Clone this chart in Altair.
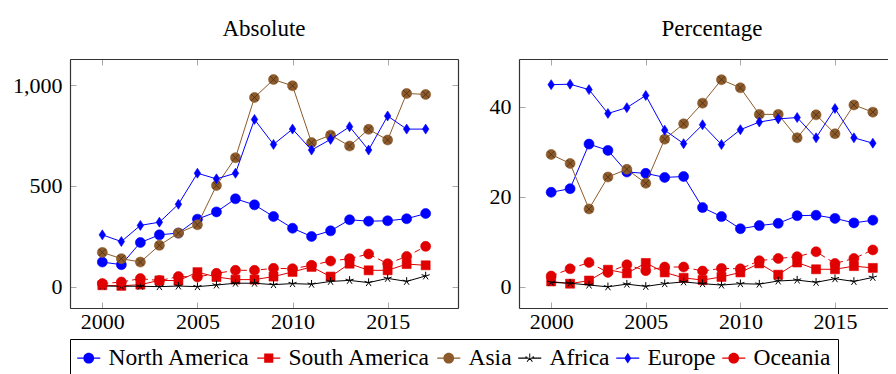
import math
import altair as alt
import pandas as pd

years = list(range(2000, 2018))
series = ["North America", "South America", "Asia", "Africa", "Europe", "Oceania"]

# Absolute values
abs_north_america = [122, 109, 219, 257, 266, 335, 371, 436, 406, 348, 290, 249, 277, 332, 325, 327, 337, 363]
abs_south_america = [7, 4, 10, 31, 30, 72, 48, 35, 35, 50, 73, 98, 50, 114, 81, 81, 112, 106]
abs_asia = [170, 139, 122, 205, 266, 307, 502, 640, 939, 1028, 997, 715, 752, 698, 781, 728, 959, 954]
abs_africa = [3, 2, 2, 0, 3, 0, 8, 17, 17, 10, 15, 12, 26, 31, 20, 41, 26, 53]
abs_europe = [257, 224, 304, 320, 409, 563, 535, 563, 830, 706, 782, 678, 731, 794, 678, 847, 782, 782]
abs_oceania = [15, 23, 40, 30, 50, 48, 66, 81, 81, 91, 89, 106, 127, 139, 162, 114, 150, 200]

# Percentage values
pct_north_america = [21.0, 21.8, 31.7, 30.3, 25.5, 25.2, 24.3, 24.5, 17.6, 15.6, 12.9, 13.6, 14.1, 15.8, 15.9, 15.2, 14.2, 14.8]
pct_south_america = [1.2, 0.7, 1.4, 3.8, 3.0, 5.3, 3.2, 2.0, 1.5, 2.2, 3.2, 5.2, 2.7, 5.4, 3.9, 3.9, 4.6, 4.2]
pct_asia = [29.4, 27.4, 17.3, 24.4, 26.1, 23.0, 32.8, 36.2, 40.8, 46.0, 44.2, 38.3, 38.3, 33.1, 38.2, 34.0, 40.4, 38.8]
pct_africa = [1.0, 0.8, 0.4, 0.0, 0.6, 0.1, 0.7, 1.1, 0.7, 0.4, 0.7, 0.6, 1.3, 1.5, 1.0, 1.8, 1.2, 2.1]
pct_europe = [44.9, 45.0, 43.8, 38.5, 39.8, 42.5, 34.8, 31.8, 36.0, 31.6, 34.9, 36.6, 37.3, 37.6, 33.1, 39.6, 33.1, 31.9]
pct_oceania = [2.4, 4.0, 5.4, 3.2, 4.9, 3.6, 4.4, 4.4, 3.5, 4.1, 4.0, 5.8, 6.3, 6.7, 7.8, 5.2, 6.3, 8.2]

abs_values = [abs_north_america, abs_south_america, abs_asia, abs_africa, abs_europe, abs_oceania]
pct_values = [pct_north_america, pct_south_america, pct_asia, pct_africa, pct_europe, pct_oceania]

rows = []
for s, av, pv in zip(series, abs_values, pct_values):
    for y, a, p in zip(years, av, pv):
        rows.append({"year": y, "series": s, "absolute": a, "percent": p})
df = pd.DataFrame(rows)

FONT = "'Liberation Serif', 'DejaVu Serif', serif"
BLUE = "#0000ff"
RED = "#e00000"
BROWN = "#8c5a2b"
BLACK = "#000000"
FRAME = "#333333"
colors = [BLUE, RED, BROWN, BLACK, BLUE, RED]

STAR = "M0,0L0,-0.85M0,0L0.81,-0.26M0,0L0.5,0.69M0,0L-0.5,0.69M0,0L-0.81,-0.26"
DIAMOND = "M0,-1L0.65,0L0,1L-0.65,0Z"
OTIMES = "M-0.7,-0.7L0.7,0.7M-0.7,0.7L0.7,-0.7"
SQUARE = "M-0.9,-0.9L0.9,-0.9L0.9,0.9L-0.9,0.9Z"
marker_shapes = ["circle", SQUARE, "circle", STAR, DIAMOND, "circle"]


def bar(x0, x1, w=0.1):
    return f"M{x0},{-w}L{x1},{-w}L{x1},{w}L{x0},{w}Z"


def filled_star(r=0.85, w=0.09):
    parts = []
    for k in range(5):
        a = math.radians(-90 + 72 * k)
        dx, dy = math.cos(a), math.sin(a)
        px, py = -dy * w, dx * w
        tx, ty = dx * r, dy * r
        parts.append(f"M{px:.3f},{py:.3f}L{tx + px:.3f},{ty + py:.3f}L{tx - px:.3f},{ty - py:.3f}L{-px:.3f},{-py:.3f}Z")
    return "".join(parts)


LEG_CIRCLE = bar(-2.15, -0.95) + bar(0.95, 2.15) + "M1,0A1,1,0,1,1,-1,0A1,1,0,1,1,1,0Z"
LEG_SQUARE = bar(-2.15, -0.8) + bar(0.8, 2.15) + "M-0.85,-0.85L0.85,-0.85L0.85,0.85L-0.85,0.85Z"
LEG_STAR = bar(-2.15, 2.15) + filled_star()
LEG_DIAMOND = bar(-2.15, -0.6) + bar(0.6, 2.15) + DIAMOND
legend_shapes = [LEG_CIRCLE, LEG_SQUARE, LEG_CIRCLE, LEG_STAR, LEG_DIAMOND, LEG_CIRCLE]

TICK = "#a8a8a8"
x_values = [2000, 2005, 2010, 2015]


def tick_axis(orient, values, fmt, labels):
    kw = dict(orient=orient, values=values, tickSize=6, offset=-6, domain=False, grid=False,
              tickColor=TICK, tickWidth=1, title=None, labels=labels)
    if labels:
        kw.update(format=fmt, labelFont=FONT, labelFontSize=22, labelColor="black",
                  labelPadding=8 if orient == "left" else 3, labelOverlap=False, labelFlush=False)
    return alt.Axis(**kw)


def frame_axis(orient):
    return alt.Axis(orient=orient, domain=True, domainColor=FRAME, domainWidth=1.2, ticks=False,
                    labels=False, grid=False, title=None, offset=0)


def panel(field, title, ydomain, yvalues, yformat, width, xmax, with_legend, right_side):
    xs = alt.Scale(domain=[1998.3, xmax], nice=False, zero=False)
    ys = alt.Scale(domain=ydomain, nice=False, zero=False)
    base = alt.Chart(df)
    layers = []
    for i, s in enumerate(series):
        sub = base.transform_filter(alt.datum.series == s)
        xa_l = ya_l = xa_p = ya_p = None
        if i == 0:
            xa_l = tick_axis("bottom", x_values, "d", True)
            ya_l = tick_axis("left", yvalues, yformat, True)
            xa_p = tick_axis("top", x_values, "d", False)
            ya_p = tick_axis("right", yvalues, yformat, False)
        elif i == 1:
            xa_l = frame_axis("bottom")
            ya_l = frame_axis("left")
            xa_p = frame_axis("top")
            ya_p = frame_axis("right")
        line_kw = dict(color=colors[i], strokeWidth=1)
        if s == "Oceania":
            line_kw["strokeDash"] = [6, 4]
        line = sub.mark_line(**line_kw).encode(
            x=alt.X("year:Q", scale=xs, axis=xa_l),
            y=alt.Y(f"{field}:Q", scale=ys, axis=ya_l),
        )
        if s == "Africa":
            pt = sub.mark_point(shape=marker_shapes[i], filled=False, color=colors[i],
                                strokeWidth=1, size=100, opacity=1)
        else:
            pt = sub.mark_point(shape=marker_shapes[i], filled=True, color=colors[i],
                                stroke=colors[i], strokeWidth=0.6, size=100, opacity=1)
        pt = pt.encode(
            x=alt.X("year:Q", scale=xs, axis=xa_p),
            y=alt.Y(f"{field}:Q", scale=ys, axis=ya_p),
        )
        layers += [line, pt]
        if s == "Asia":
            cross = sub.mark_point(shape=OTIMES, filled=False, color="#4a2e12",
                                   strokeWidth=0.8, size=100, opacity=1).encode(
                x=alt.X("year:Q", scale=xs, axis=None),
                y=alt.Y(f"{field}:Q", scale=ys, axis=None),
            )
            layers.append(cross)
    if with_legend:
        leg = alt.Legend(title=None, orient="none", legendX=0, legendY=280, direction="horizontal",
                         labelFont=FONT, labelFontSize=23.5, labelColor="black",
                         symbolSize=115, symbolStrokeWidth=0, symbolOffset=0, labelOffset=8,
                         columnPadding=6, padding=7, strokeColor="black", fillColor="white",
                         cornerRadius=0, symbolOpacity=1, labelLimit=400)
        legend_layer = base.transform_filter("datum.year < 0").mark_point(
            filled=True, size=115, strokeWidth=0, opacity=1).encode(
            x=alt.X("year:Q", scale=xs, axis=None),
            y=alt.Y(f"{field}:Q", scale=ys, axis=None),
            fill=alt.Fill("series:N", scale=alt.Scale(domain=series, range=colors), legend=leg),
            shape=alt.Shape("series:N", scale=alt.Scale(domain=series, range=legend_shapes), legend=leg),
        )
        layers.append(legend_layer)
    return alt.layer(*layers).resolve_axis(x="independent", y="independent").properties(
        width=width, height=249,
        title=alt.TitleParams(title, font=FONT, fontSize=23, fontWeight="normal", color="black",
                              anchor="middle", baseline="alphabetic", offset=0, frame="group"),
    )


# right panel is wider than the visible area (cropped at the right edge, as in the reference)
left = panel("absolute", "Absolute", [-106, 1130], [0, 500, 1000], ",d", 388, 2018.7, True, True)
right = panel("percent", "Percentage", [-4.7, 50.6], [0, 20, 40], "d", 386, 2018.7, False, True)

chart = alt.hconcat(left, right, spacing=61, bounds="flush").properties(
    autosize=alt.AutoSizeParams(type="none"),
    padding={"left": 62, "top": 51, "right": 818, "bottom": 307},
).configure_view(stroke="transparent").configure(font=FONT)

chart.save("out.html", embed_options={"renderer": "svg", "actions": False})
